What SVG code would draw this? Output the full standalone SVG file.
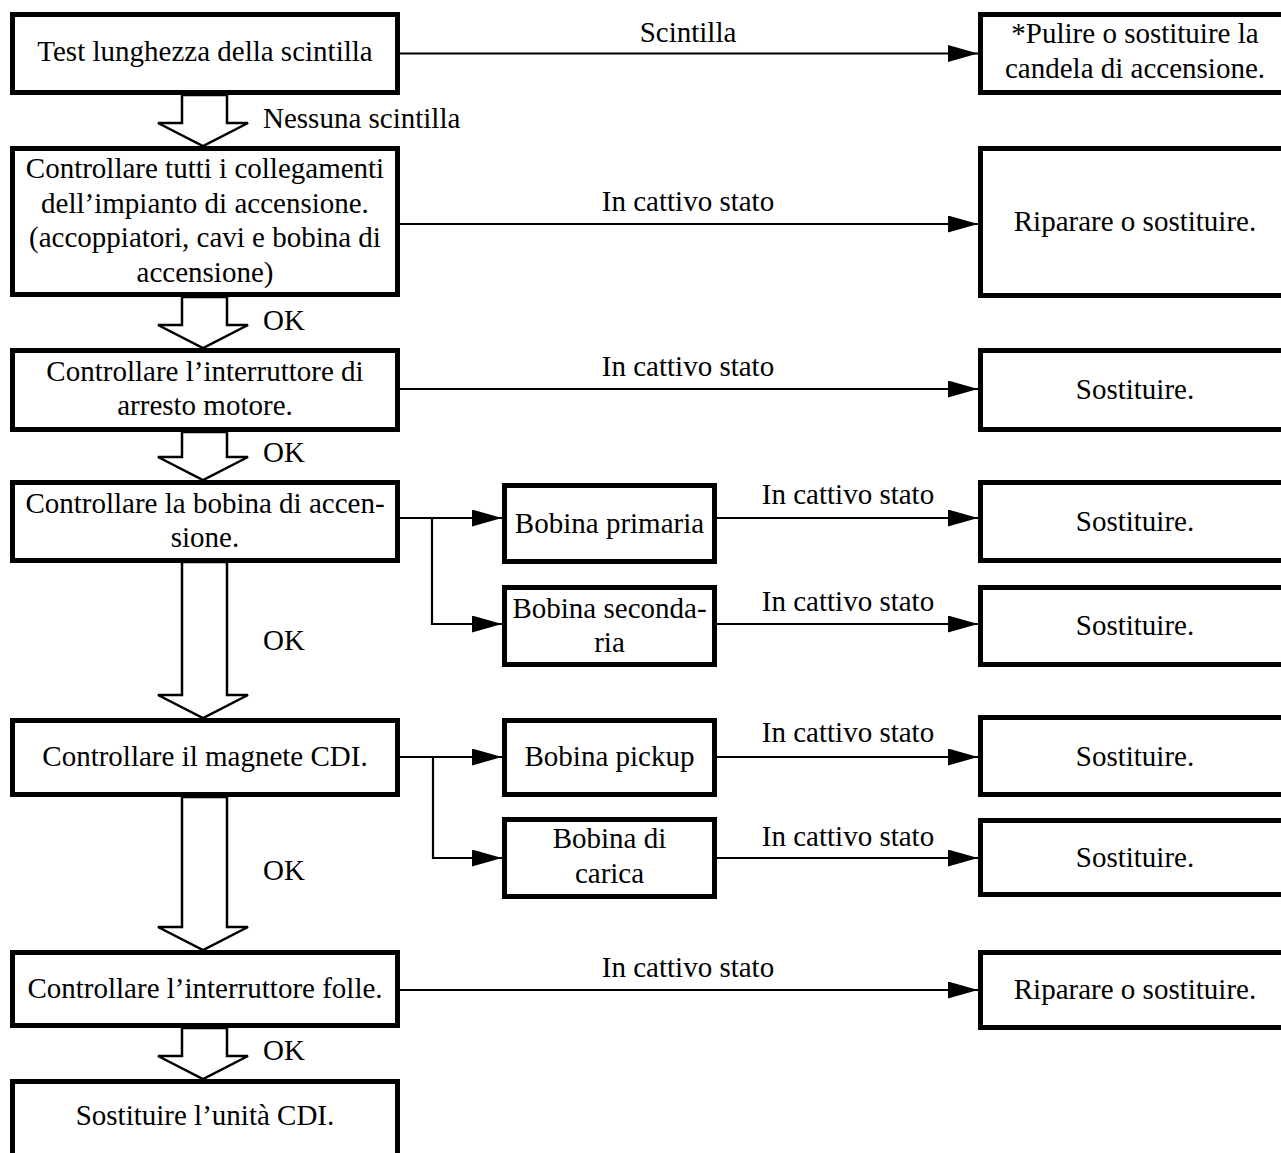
<svg xmlns="http://www.w3.org/2000/svg" width="1281" height="1153" viewBox="0 0 1281 1153">
<style>
.box{fill:#fff;stroke:#000;stroke-width:5}
.t{font-family:"Liberation Serif","Times New Roman",serif;font-size:29px;fill:#000;text-anchor:middle}
.l{font-family:"Liberation Serif","Times New Roman",serif;font-size:29px;fill:#000}
.c{fill:none;stroke:#000;stroke-width:2.2}
.blk{fill:#fff;stroke:#000;stroke-width:2.5;stroke-linejoin:miter}
</style>
<defs>
<marker id="ah" markerUnits="userSpaceOnUse" viewBox="0 0 30 17" refX="30" refY="8.5" markerWidth="30" markerHeight="17" orient="auto">
<path d="M0,0 L30,8.5 L0,17 Z" fill="#000"/>
</marker>
</defs>
<rect width="1281" height="1153" fill="#fff"/>

<g id="connectors">
<polygon class="blk" points="182,95 182,123 158,123 203,146 248,123 227,123 227,95"/>
<polygon class="blk" points="182,297 182,325 158,325 203,348 248,325 227,325 227,297"/>
<polygon class="blk" points="182,432 182,457 158,457 203,480 248,457 227,457 227,432"/>
<polygon class="blk" points="182,562 182,695 158,695 203,718 248,695 227,695 227,562"/>
<polygon class="blk" points="182,797 182,927 158,927 203,950 248,927 227,927 227,797"/>
<polygon class="blk" points="182,1028 182,1056 158,1056 203,1079 248,1056 227,1056 227,1028"/>
<text class="l" x="263" y="128">Nessuna scintilla</text>
<text class="l" x="263" y="330">OK</text>
<text class="l" x="263" y="462">OK</text>
<text class="l" x="263" y="650">OK</text>
<text class="l" x="263" y="880">OK</text>
<text class="l" x="263" y="1060">OK</text>

<path class="c" d="M400,53.5 H978" marker-end="url(#ah)"/>
<text class="t" x="688" y="42">Scintilla</text>
<path class="c" d="M400,224 H978" marker-end="url(#ah)"/>
<text class="t" x="688" y="211">In cattivo stato</text>
<path class="c" d="M400,389 H978" marker-end="url(#ah)"/>
<text class="t" x="688" y="376">In cattivo stato</text>

<path class="c" d="M400,518 H502" marker-end="url(#ah)"/>
<path class="c" d="M432,518 V624 H502" marker-end="url(#ah)"/>
<path class="c" d="M717,518 H978" marker-end="url(#ah)"/>
<text class="t" x="848" y="504">In cattivo stato</text>
<path class="c" d="M717,624 H978" marker-end="url(#ah)"/>
<text class="t" x="848" y="611">In cattivo stato</text>

<path class="c" d="M400,757 H502" marker-end="url(#ah)"/>
<path class="c" d="M433,757 V858 H502" marker-end="url(#ah)"/>
<path class="c" d="M717,757 H978" marker-end="url(#ah)"/>
<text class="t" x="848" y="742">In cattivo stato</text>
<path class="c" d="M717,858 H978" marker-end="url(#ah)"/>
<text class="t" x="848" y="846">In cattivo stato</text>

<path class="c" d="M400,990 H978" marker-end="url(#ah)"/>
<text class="t" x="688" y="977">In cattivo stato</text>
</g>

<g id="n1"><rect class="box" x="12.5" y="14.5" width="385" height="78"/><text class="t" x="205" y="61">Test lunghezza della scintilla</text></g>
<g id="n2"><rect class="box" x="12.5" y="148.5" width="385" height="146"/>
<text class="t" x="205" y="178">Controllare tutti i collegamenti</text>
<text class="t" x="205" y="213">dell’impianto di accensione.</text>
<text class="t" x="205" y="247">(accoppiatori, cavi e bobina di</text>
<text class="t" x="205" y="282">accensione)</text></g>
<g id="n3"><rect class="box" x="12.5" y="350.5" width="385" height="79"/>
<text class="t" x="205" y="381">Controllare l’interruttore di</text>
<text class="t" x="205" y="415">arresto motore.</text></g>
<g id="n4"><rect class="box" x="12.5" y="482.5" width="385" height="78"/>
<text class="t" x="205" y="513">Controllare la bobina di accen-</text>
<text class="t" x="205" y="547">sione.</text></g>
<g id="n5"><rect class="box" x="12.5" y="720.5" width="385" height="74"/>
<text class="t" x="205" y="766">Controllare il magnete CDI.</text></g>
<g id="n6"><rect class="box" x="12.5" y="952.5" width="385" height="73"/>
<text class="t" x="205" y="998">Controllare l’interruttore folle.</text></g>
<g id="n7"><rect class="box" x="12.5" y="1081.5" width="385" height="100"/>
<text class="t" x="205" y="1125">Sostituire l’unità CDI.</text></g>

<g id="r1"><rect class="box" x="980.5" y="14.5" width="310" height="78"/>
<text class="t" x="1135" y="43">*Pulire o sostituire la</text>
<text class="t" x="1135" y="78">candela di accensione.</text></g>
<g id="r2"><rect class="box" x="980.5" y="148.5" width="310" height="147"/>
<text class="t" x="1135" y="231">Riparare o sostituire.</text></g>
<g id="r3"><rect class="box" x="980.5" y="350.5" width="310" height="79"/>
<text class="t" x="1135" y="399">Sostituire.</text></g>
<g id="r4"><rect class="box" x="980.5" y="482.5" width="310" height="78"/>
<text class="t" x="1135" y="531">Sostituire.</text></g>
<g id="r5"><rect class="box" x="980.5" y="587.5" width="310" height="77"/>
<text class="t" x="1135" y="635">Sostituire.</text></g>
<g id="r6"><rect class="box" x="980.5" y="717.5" width="310" height="77"/>
<text class="t" x="1135" y="766">Sostituire.</text></g>
<g id="r7"><rect class="box" x="980.5" y="820.5" width="310" height="74"/>
<text class="t" x="1135" y="867">Sostituire.</text></g>
<g id="r8"><rect class="box" x="980.5" y="952.5" width="310" height="75"/>
<text class="t" x="1135" y="999">Riparare o sostituire.</text></g>

<g id="m1"><rect class="box" x="504.5" y="485.5" width="210" height="76"/>
<text class="t" x="609.5" y="533">Bobina primaria</text></g>
<g id="m2"><rect class="box" x="504.5" y="587.5" width="210" height="77"/>
<text class="t" x="609.5" y="618">Bobina seconda-</text>
<text class="t" x="609.5" y="652">ria</text></g>
<g id="m3"><rect class="box" x="504.5" y="720.5" width="210" height="74"/>
<text class="t" x="609.5" y="766">Bobina pickup</text></g>
<g id="m4"><rect class="box" x="504.5" y="819.5" width="210" height="77"/>
<text class="t" x="609.5" y="848">Bobina di</text>
<text class="t" x="609.5" y="883">carica</text></g>
</svg>
